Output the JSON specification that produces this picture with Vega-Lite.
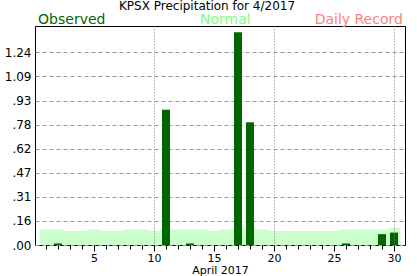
{
  "$schema": "https://vega.github.io/schema/vega-lite/v6.json",
  "width": 370,
  "height": 219,
  "autosize": {"type": "none"},
  "padding": {"left": 35, "top": 26, "right": 12, "bottom": 31},
  "background": "white",
  "config": {
    "view": {"stroke": "#000", "strokeWidth": 1},
    "font": "DejaVu Sans",
    "axis": {"labelFont": "DejaVu Sans", "titleFont": "DejaVu Sans"}
  },
  "title": {
    "text": "KPSX Precipitation for 4/2017",
    "fontSize": 12,
    "fontWeight": "normal",
    "font": "DejaVu Sans",
    "color": "#000",
    "anchor": "middle",
    "dx": -13,
    "offset": 0
  },
  "data": {
    "values": [
      {"day": 1, "obs": 0, "normal": 0.10},
      {"day": 2, "obs": 0.01, "normal": 0.10},
      {"day": 3, "obs": 0, "normal": 0.09},
      {"day": 4, "obs": 0, "normal": 0.09},
      {"day": 5, "obs": 0, "normal": 0.10},
      {"day": 6, "obs": 0, "normal": 0.09},
      {"day": 7, "obs": 0, "normal": 0.09},
      {"day": 8, "obs": 0, "normal": 0.10},
      {"day": 9, "obs": 0, "normal": 0.10},
      {"day": 10, "obs": 0, "normal": 0.09},
      {"day": 11, "obs": 0.87, "normal": 0.10},
      {"day": 12, "obs": 0, "normal": 0.10},
      {"day": 13, "obs": 0.01, "normal": 0.10},
      {"day": 14, "obs": 0, "normal": 0.10},
      {"day": 15, "obs": 0, "normal": 0.09},
      {"day": 16, "obs": 0, "normal": 0.10},
      {"day": 17, "obs": 1.37, "normal": 0.10},
      {"day": 18, "obs": 0.79, "normal": 0.11},
      {"day": 19, "obs": 0, "normal": 0.10},
      {"day": 20, "obs": 0, "normal": 0.09},
      {"day": 21, "obs": 0, "normal": 0.09},
      {"day": 22, "obs": 0, "normal": 0.09},
      {"day": 23, "obs": 0, "normal": 0.09},
      {"day": 24, "obs": 0, "normal": 0.09},
      {"day": 25, "obs": 0, "normal": 0.09},
      {"day": 26, "obs": 0.01, "normal": 0.10},
      {"day": 27, "obs": 0, "normal": 0.10},
      {"day": 28, "obs": 0, "normal": 0.10},
      {"day": 29, "obs": 0.07, "normal": 0.10},
      {"day": 30, "obs": 0.08, "normal": 0.11}
    ]
  },
  "layer": [
    {
      "mark": {"type": "bar", "color": "#ccffcc", "size": 12.6, "clip": true},
      "encoding": {
        "x": {
          "field": "day",
          "type": "quantitative",
          "scale": {"domain": [0.5, 30.5], "nice": false, "zero": false},
          "axis": {
            "orient": "bottom",
            "values": [1,2,3,4,5,6,7,8,9,10,11,12,13,14,15,16,17,18,19,20,21,22,23,24,25,26,27,28,29,30],
            "title": "April 2017",
            "labelExpr": "datum.value % 5 === 0 ? datum.label : ''",
            "labelFlush": false,
            "labelOverlap": false,
            "labelBound": false,
            "domain": false,
            "ticks": true,
            "tickColor": "#000",
            "tickSize": {"condition": {"test": "datum.value % 5 === 0", "value": 6}, "value": 4},
            "labelPadding": 1,
            "labelFontSize": 11,
            "labelColor": "#000",
            "titleFontSize": 11,
            "titleFontWeight": "normal",
            "titleColor": "#000",
            "titlePadding": 1,
            "grid": true,
            "gridColor": "#808080",
            "gridDash": [1, 2],
            "gridOpacity": {"condition": {"test": "datum.value % 10 === 0", "value": 1}, "value": 0},
            "zindex": 1
          }
        },
        "y": {
          "field": "normal",
          "type": "quantitative",
          "scale": {"domain": [0, 1.41], "nice": false, "zero": true},
          "axis": {
            "title": null,
            "values": [0, 0.155, 0.31, 0.465, 0.62, 0.775, 0.93, 1.085, 1.24],
            "labelExpr": "datum.value < 1 ? substring(format(datum.value + 0.0001, '.2f'), 1) : format(datum.value + 0.0001, '.2f')",
            "ticks": false,
            "domain": false,
            "labelPadding": 4,
            "labelFontSize": 12,
            "labelColor": "#000",
            "labelFlush": false,
            "labelOverlap": false,
            "grid": true,
            "gridColor": "#999999",
            "gridDash": [4, 3],
            "gridWidth": 1
          }
        }
      }
    },
    {
      "mark": {"type": "bar", "color": "#006600", "size": 8},
      "encoding": {
        "x": {
          "field": "day",
          "type": "quantitative",
          "axis": {
            "orient": "top",
            "title": null,
            "values": [0.3, 15.9, 30.7],
            "labelExpr": "datum.value < 1 ? 'Observed' : datum.value < 20 ? 'Normal' : 'Daily Record'",
            "labelAlign": {"condition": [{"test": "datum.value < 1", "value": "left"}, {"test": "datum.value > 20", "value": "right"}], "value": "center"},
            "labelColor": {"condition": [{"test": "datum.value < 1", "value": "#006600"}, {"test": "datum.value > 20", "value": "#ff8080"}], "value": "#80ff80"},
            "labelBaseline": "alphabetic",
            "labelFontSize": 14,
            "labelPadding": 2.5,
            "labelFlush": false,
            "labelOverlap": false,
            "labelBound": false,
            "ticks": false,
            "domain": false,
            "grid": false
          }
        },
        "y": {
          "field": "obs",
          "type": "quantitative",
          "axis": {
            "title": null,
            "values": [0, 0.155, 0.31, 0.465, 0.62, 0.775, 0.93, 1.085, 1.24],
            "labelExpr": "datum.value < 1 ? substring(format(datum.value + 0.0001, '.2f'), 1) : format(datum.value + 0.0001, '.2f')",
            "ticks": false,
            "domain": false,
            "labelPadding": 4,
            "labelFontSize": 12,
            "labelColor": "#000",
            "labelFlush": false,
            "labelOverlap": false,
            "grid": true,
            "gridColor": "#999999",
            "gridDash": [4, 3],
            "gridWidth": 1
          }
        }
      }
    }
  ],
  "resolve": {"axis": {"x": "independent"}}
}
